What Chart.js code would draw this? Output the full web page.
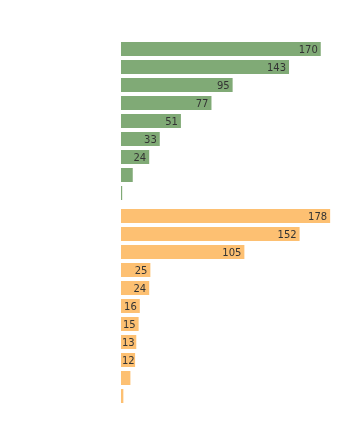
<!DOCTYPE html>
<html>
<head>
<meta charset="utf-8">
<script src="https://cdn.jsdelivr.net/npm/chart.js@4/dist/chart.umd.min.js"></script>
<style>
  html, body { margin: 0; padding: 0; background: #fff; }
  #wrap { position: relative; width: 364px; height: 444px; }
  canvas { position: absolute; left: 0; }
  #greenChart { top: 40px; }
  #orangeChart { top: 207px; }
</style>
</head>
<body>
<div id="wrap">
  <canvas id="greenChart" width="364" height="162"></canvas>
  <canvas id="orangeChart" width="364" height="198"></canvas>
</div>
<script>
// values, top to bottom
var greenLabels = ["1", "2", "3", "4", "5", "6", "7", "8", "9"];
var greenValues = [170, 143, 95, 77, 51, 33, 24, 10, 1];
var orangeLabels = ["1", "2", "3", "4", "5", "6", "7", "8", "9", "10", "11"];
var orangeValues = [178, 152, 105, 25, 24, 16, 15, 13, 12, 8, 2];
var axisMax = 200;
var minLabelValue = 12;

// writes the value inside the end of each bar
var valueLabels = {
    id: 'valueLabels',
    afterDatasetsDraw: function(chart) {
        var ctx = chart.ctx;
        var meta = chart.getDatasetMeta(0);
        var data = chart.data.datasets[0].data;
        ctx.save();
        ctx.font = '10px "DejaVu Sans"';
        ctx.fillStyle = '#333';
        ctx.textBaseline = 'middle';
        ctx.textAlign = 'left';
        meta.data.forEach(function(bar, i) {
            if (data[i] < minLabelValue) return;
            var text = String(data[i]);
            var w = ctx.measureText(text).width;
            var x = bar.x - 3 - w;
            if (x < bar.base + 1) x = bar.base + 1;
            ctx.fillText(text, x, bar.y + 1);
        });
        ctx.restore();
    }
};

function drawBars(id, labels, values, color) {
    var ctx = document.getElementById(id).getContext('2d');
    return new Chart(ctx, {
        type: 'bar',
        data: {
            labels: labels,
            datasets: [{
                data: values,
                backgroundColor: color,
                borderWidth: 0,
                categoryPercentage: 1,
                barPercentage: 14 / 18
            }]
        },
        options: {
            indexAxis: 'y',
            responsive: false,
            animation: false,
            layout: { padding: { left: 121, right: 8, top: 0, bottom: 0 } },
            scales: {
                x: { display: false, min: 0, max: axisMax },
                y: { display: false }
            },
            plugins: {
                legend: { display: false },
                tooltip: { enabled: false }
            }
        },
        plugins: [valueLabels]
    });
}

drawBars('greenChart', greenLabels, greenValues, '#80aa76');
drawBars('orangeChart', orangeLabels, orangeValues, '#fdc072');
</script>
</body>
</html>
